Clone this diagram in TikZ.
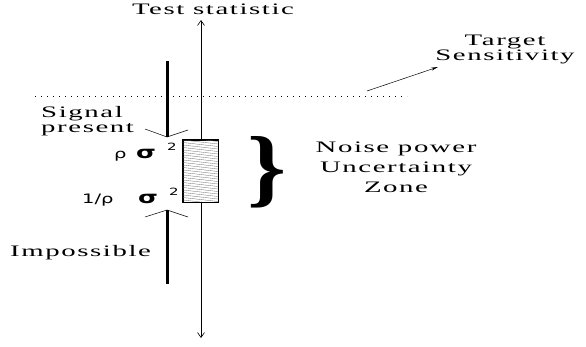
\documentclass[tikz,border=0pt]{standalone}
\usepackage{fontspec}
\usepackage{graphicx}
\setmainfont{Liberation Serif}
\newfontfamily\figfont[FakeStretch=1.8,LetterSpace=10]{Liberation Serif}
\newfontfamily\symfont[FakeStretch=1.5]{DejaVu Sans}
\usetikzlibrary{arrows.meta}
\tikzset{
  labeltext/.style={font=\figfont\fontsize{16}{15}\selectfont, inner sep=0pt},
  symtext/.style={font=\symfont\fontsize{13}{14}\selectfont, inner sep=0pt, anchor=base west},
  sigtext/.style={font=\symfont\bfseries\fontsize{17}{17}\selectfont, inner sep=0pt, anchor=base west},
  suptext/.style={font=\symfont\fontsize{10}{10}\selectfont, inner sep=0pt, anchor=base west},
  zonebar/.style={line width=3pt},
  hatch/.style={line width=0.3pt, black!60},
}
\begin{document}
\begin{tikzpicture}[x=1pt,y=-1pt]
  \useasboundingbox (0,0) rectangle (586,346);
  \coordinate (axtop) at (201,20);
  \coordinate (axbot) at (201,338);
  \draw[{Straight Barb[length=5pt,width=7pt]}-{Straight Barb[length=5pt,width=7pt]}, line width=0.6pt] (axtop) -- (axbot);
  \node[labeltext, anchor=base] (stat) at (213,14) {Test statistic};
  \draw[dash pattern=on 1pt off 5pt, line width=0.8pt] (35,96) coordinate (dotl) -- (407,96) coordinate (dotr);
  \node[labeltext, anchor=north, align=center] (target) at (505,35) {Target\\Sensitivity};
  \coordinate (tsfrom) at (367,91);
  \coordinate (tsto) at (438,67);
  \draw[-{Stealth[length=7pt,width=3pt]}, line width=0.5pt] (tsfrom) -- (tsto);
  \node[labeltext, anchor=north west, align=left] (signal) at (41,106) {Signal\\present};
  \node[labeltext, anchor=base west] (imposs) at (10,256) {Impossible};
  \node[labeltext, anchor=north, align=center, font=\figfont\fontsize{16}{20}\selectfont] (noise) at (396,142) {Noise power\\Uncertainty\\Zone};
  \draw[zonebar] (167,61) coordinate (sigtop) -- (167,137) coordinate (sigtip);
  \draw[line width=0.5pt] (145,129) -- (sigtip) -- (188,130);
  \draw[zonebar] (167,284) coordinate (imptop) -- (167,210) coordinate (imptip);
  \draw[line width=0.5pt] (145,217) -- (imptip) -- (188,217);
  \node[draw, fill=white, line width=0.8pt, minimum width=35pt, minimum height=62pt, inner sep=0pt] (zone) at (200.5,171) {};
  \begin{scope}
    \clip (zone.south west) rectangle (zone.north east);
    \foreach \y in {-8,-5.5,...,66}
      \draw[hatch] (183,138+\y) -- (218,142+\y);
  \end{scope}
  \draw[line width=0.8pt] (zone.south west) rectangle (zone.north east);
  \node[inner sep=0pt] (brace) at (267,172) {\resizebox{39pt}{60pt}{\bfseries\}}};
  \node[symtext] (rhohi) at (114,158) {ρ};
  \node[sigtext] (sighi) at (136,158) {σ};
  \node[suptext] (sqhi) at (167,150) {2};
  \node[symtext] (rholo) at (82,203) {1/ρ};
  \node[sigtext] (siglo) at (138,203) {σ};
  \node[suptext] (sqlo) at (169,195) {2};
\end{tikzpicture}
\end{document}
